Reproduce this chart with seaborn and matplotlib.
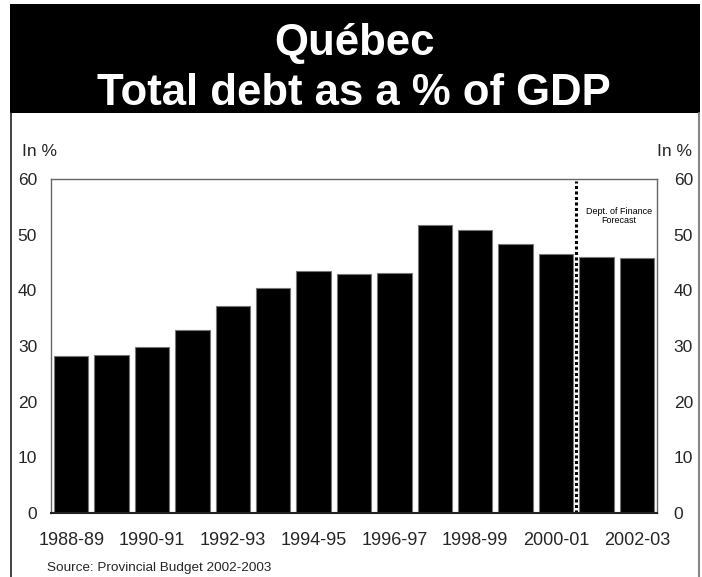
import matplotlib
matplotlib.use("Agg")
import matplotlib.pyplot as plt
import seaborn as sns
import pandas as pd
from matplotlib.patches import Rectangle
from matplotlib.lines import Line2D

years = ["1988-89", "1989-90", "1990-91", "1991-92", "1992-93", "1993-94",
         "1994-95", "1995-96", "1996-97", "1997-98", "1998-99", "1999-00",
         "2000-01", "2001-02", "2002-03"]
debt_pct = [28.2, 28.3, 29.8, 32.9, 37.2, 40.4, 43.5, 43.0, 43.1,
            51.7, 50.8, 48.4, 46.6, 46.0, 45.8]
shown_labels = ["1988-89", "1990-91", "1992-93", "1994-95", "1996-97",
                "1998-99", "2000-01", "2002-03"]
y_ticks = [0, 10, 20, 30, 40, 50, 60]
title_lines = ["Québec", "Total debt as a % of GDP"]
forecast_note = "Dept. of Finance\nForecast"
source_note = "Source: Provincial Budget 2002-2003"
forecast_start = "2001-02"

sns.set_theme(style="white")
plt.rcParams['font.family'] = ['Liberation Sans', 'DejaVu Sans']

W, H = 702, 577
fig = plt.figure(figsize=(W / 100, H / 100), dpi=100)

def fx(px):
    return px / W

def fy(py):
    return 1 - py / H

# title box
fig.patches.append(Rectangle((fx(10), fy(113)), fx(700) - fx(10), fy(4) - fy(113),
                             transform=fig.transFigure, facecolor="black",
                             edgecolor="none", zorder=0))
fig.text(fx(355), fy(55), title_lines[0], color="white", fontsize=31.5,
         fontweight="bold", ha="center", va="baseline")
fig.text(fx(354), fy(105), title_lines[1], color="white", fontsize=31.5,
         fontweight="bold", ha="center", va="baseline")
# outer frame lines
fig.add_artist(Line2D([fx(10.5), fx(10.5)], [fy(113), 0], transform=fig.transFigure,
                      color="#222222", lw=1.2))
fig.add_artist(Line2D([fx(698.5), fx(698.5)], [fy(113), 0], transform=fig.transFigure,
                      color="#888888", lw=1.5))

ax = fig.add_axes([fx(51), fy(513), fx(657) - fx(51), fy(179) - fy(513)])
df = pd.DataFrame({"year": years, "debt": debt_pct})
sns.barplot(data=df, x="year", y="debt", color="black", width=0.85,
            edgecolor="#777777", linewidth=0.8, saturation=1, ax=ax)

ax.set_xlim(-0.5, len(years) - 0.5)
ax.set_ylim(0, 60)
ax.set_yticks(y_ticks)
ax.set_yticklabels([str(v) for v in y_ticks], fontsize=12.5)
ax.set_xticks([years.index(l) for l in shown_labels])
ax.set_xticklabels(shown_labels, fontsize=13)
ax.tick_params(axis="y", length=0, pad=10)
ax.tick_params(axis="x", length=0, pad=14)
ax.set_xlabel("")
ax.set_ylabel("")
for s in ["top", "left", "right"]:
    ax.spines[s].set_color("#666666")
    ax.spines[s].set_linewidth(1.0)
ax.spines["bottom"].set_color("#222222")
ax.spines["bottom"].set_linewidth(1.5)

ax2 = ax.twinx()
ax2.set_ylim(0, 60)
ax2.set_yticks(y_ticks)
ax2.set_yticklabels([str(v) for v in y_ticks], fontsize=12.5)
ax2.tick_params(axis="y", length=0, pad=12)
for s in ax2.spines.values():
    s.set_visible(False)
ax2.grid(False)

# forecast divider
xdiv = years.index(forecast_start) - 0.5
ax.axvline(xdiv, ymin=0, ymax=0.995, color="black", lw=2.2, linestyle=(0, (1, 0.8)))
ax.text(years.index(forecast_start) + 0.55, 53.4, forecast_note, fontsize=6.5,
        ha="center", va="center", color="black", linespacing=1.0)

fig.text(fx(22), fy(152), "In %", fontsize=12.5, ha="left", va="center")
fig.text(fx(692), fy(152), "In %", fontsize=12.5, ha="right", va="center")
fig.text(fx(47), fy(568), source_note, fontsize=9.7, ha="left", va="center")

fig.savefig("out.png", dpi=100)
